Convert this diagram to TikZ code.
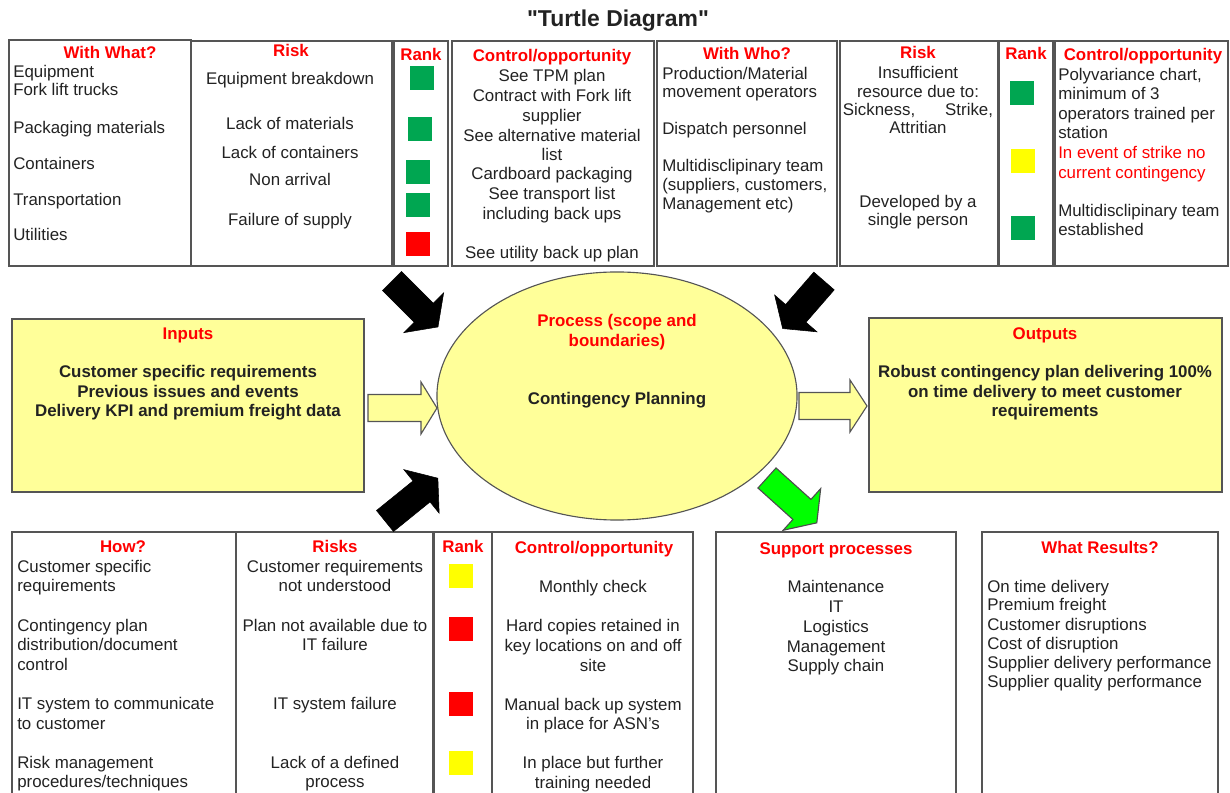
\documentclass[tikz,border=0pt,12pt]{standalone}
\usepackage{fontspec}
\setmainfont{Liberation Sans}
\usetikzlibrary{shapes.geometric,fit}

\font\titlefnt="Liberation Sans/B" at 16.3pt

\definecolor{txtgray}{HTML}{222222}
\definecolor{linegray}{HTML}{555555}
\definecolor{paleyellow}{HTML}{FFFF99}
\definecolor{rkgreen}{HTML}{00A651}
\definecolor{rkred}{HTML}{FF0000}
\definecolor{rkyellow}{HTML}{FFFF00}
\definecolor{hdred}{HTML}{FF0000}
\definecolor{brightgreen}{HTML}{00FF00}

\tikzset{
    cell/.style={draw=linegray, line width=1.2pt, inner sep=0pt},
    txt/.style={text=txtgray, inner sep=0pt},
    hd/.style={txt, text=hdred, font=\bfseries, anchor=base},
    sq/.style={minimum width=0.6cm, minimum height=0.6cm, inner sep=0pt},
    barrow/.style={fill=black, draw=black, line width=0.4pt},
    garrow/.style={fill=brightgreen, draw=black!70, line width=0.8pt},
    yarrow/.style={fill=paleyellow, draw=linegray, line width=0.8pt}
}

\newcommand{\blockarrow}[6]{%
    \draw[#1, shift={(#2)}, rotate=#3] (0,-13.5) -- (#4,-13.5) -- (#4,-#6) -- (#5,0)
        -- (#4,#6) -- (#4,13.5) -- (0,13.5) -- cycle;}

\begin{document}
\begin{tikzpicture}[x=0.025cm, y=-0.025cm]
                \useasboundingbox (0,0) rectangle (1230,793);
                \clip (0,0) rectangle (1230,793);
                \node[txt, font=\titlefnt, anchor=base] (title) at (618,27) {"Turtle Diagram"};

                \node[cell, fit={(9,40) (191,266)}] (what) {};
                \node[cell, fit={(191,41) (392,266)}] (risk) {};
                \node[cell, fit={(394,41) (448,266)}] (rank) {};
                \node[cell, fit={(452,41) (654,266)}] (ctrl) {};
                \node[cell, fit={(657,41) (837,266)}] (who) {};
                \node[cell, fit={(840,41) (998,266)}] (riskb) {};
                \node[cell, fit={(999,41) (1053,266)}] (rankb) {};
                \node[cell, fit={(1055,41) (1228,266)}] (ctrlb) {};

                \node[hd] (whath) at (110,59) {With What?};
                \node[hd] (riskh) at (291,57) {Risk};
                \node[hd] (rankh) at (421,61) {Rank};
                \node[hd] (ctrlh) at (552,62) {Control/opportunity};
                \node[hd] (whoh) at (747,60) {With Who?};
                \node[hd] (riskbh) at (918,59) {Risk};
                \node[hd] (rankbh) at (1026,60) {Rank};
                \node[hd] (ctrlbh) at (1143,61) {Control/opportunity};

                \foreach \y/\t [count=\i] in {71/Equipment, 89/Fork lift trucks, 127/Packaging materials,
                    163/Containers, 199/Transportation, 234/Utilities}
                    \node[txt, anchor=base west] (what\i) at (13,\y+7) {\t};
                \foreach \y/\t [count=\i] in {78/Equipment breakdown, 123/Lack of materials,
                    152/Lack of containers, 179/Non arrival, 219/Failure of supply}
                    \node[txt, anchor=base] (risk\i) at (290,\y+7) {\t};
                \foreach \y/\t [count=\i] in {75/See TPM plan, 95/Contract with Fork lift, 115/supplier,
                    135/See alternative material, 154/list, 173/Cardboard packaging,
                    193/See transport list, 213/including back ups, 252/See utility back up plan}
                    \node[txt, anchor=base] (ctrl\i) at (552,\y+7) {\t};
                \foreach \y/\t [count=\i] in {73/{Production/Material}, 91/movement operators,
                    128/Dispatch personnel, 165/Multidisclipinary team,
                    184/{(suppliers, customers,}, 203/Management etc)}
                    \node[txt, anchor=base west] (who\i) at (662,\y+7) {\t};
                \foreach \y/\t [count=\i] in {72/Insufficient, 91/resource due to:,
                    109/{\makebox[3.75cm]{Sickness,\hfill Strike,}}, 127/Attritian,
                    201/Developed by a, 219/single person}
                    \node[txt, anchor=base] (riskb\i) at (918,\y+7) {\t};
                \foreach \y/\t [count=\i] in {74/{Polyvariance chart,}, 93/minimum of 3,
                    113/operators trained per, 132/station, 152/{\color{hdred}In event of strike no},
                    172/{\color{hdred}current contingency}, 210/Multidisclipinary team, 229/established}
                    \node[txt, anchor=base west] (ctrlb\i) at (1058,\y+7) {\t};

                \node[sq, fill=rkgreen] (rka) at (422,78) {};
                \node[sq, fill=rkgreen] (rkb) at (420,129) {};
                \node[sq, fill=rkgreen] (rkc) at (418,172) {};
                \node[sq, fill=rkgreen] (rkd) at (418,205) {};
                \node[sq, fill=rkred] (rke) at (418,244) {};
                \node[sq, fill=rkgreen] (rkf) at (1022,93) {};
                \node[sq, fill=rkyellow] (rkg) at (1023,161) {};
                \node[sq, fill=rkgreen] (rkh) at (1023,228) {};

                \node[cell, line width=0.8pt, fill=paleyellow, fit={(12,319) (364,492)}] (inputs) {};
                \node[cell, line width=0.8pt, fill=paleyellow, fit={(869,318) (1222,492)}] (outputs) {};
                \node[draw=linegray, line width=0.8pt, fill=paleyellow, ellipse, inner sep=0pt,
                    minimum width=9cm, minimum height=6.2cm] (process) at (617,396) {};

                \node[hd] (inputsh) at (188,340) {Inputs};
                \foreach \y/\t [count=\i] in {371/Customer specific requirements,
                    391/Previous issues and events, 410/Delivery KPI and premium freight data}
                    \node[txt, font=\bfseries, anchor=base] (input\i) at (188,\y+7) {\t};
                \node[hd] (processh) at (617,327) {Process (scope and};
                \node[hd] (processhb) at (617,347) {boundaries)};
                \node[txt, font=\bfseries, anchor=base] (plan) at (617,405) {Contingency Planning};
                \node[hd] (outputsh) at (1045,340) {Outputs};
                \foreach \y/\t [count=\i] in {371/Robust contingency plan delivering 100\%,
                    391/on time delivery to meet customer, 410/requirements}
                    \node[txt, font=\bfseries, anchor=base] (output\i) at (1045,\y+7) {\t};

                \node[cell, fit={(12,532) (236,810)}] (how) {};
                \node[cell, fit={(236,532) (433,810)}] (risks) {};
                \node[cell, fit={(434,532) (492,810)}] (rankc) {};
                \node[cell, fit={(492,532) (693,810)}] (ctrlc) {};
                \node[cell, fit={(716,532) (956,810)}] (support) {};
                \node[cell, fit={(982,532) (1218,810)}] (results) {};

                \node[hd] (howh) at (123,552) {How?};
                \node[hd] (risksh) at (335,552) {Risks};
                \node[hd] (rankch) at (463,552) {Rank};
                \node[hd] (ctrlch) at (594,553) {Control/opportunity};
                \node[hd] (supporth) at (836,554) {Support processes};
                \node[hd] (resultsh) at (1100,553) {What Results?};

                \foreach \y/\t [count=\i] in {565/Customer specific, 584/requirements, 624/Contingency plan,
                    643/{distribution/document}, 663/control, 702/IT system to communicate,
                    722/to customer, 761/Risk management, 780/{procedures/techniques}}
                    \node[txt, anchor=base west] (how\i) at (17,\y+7) {\t};
                \foreach \y/\t [count=\i] in {565/Customer requirements, 584/not understood,
                    624/Plan not available due to, 643/IT failure, 702/IT system failure,
                    761/Lack of a defined, 780/process}
                    \node[txt, anchor=base] (risks\i) at (335,\y+7) {\t};
                \foreach \y/\t [count=\i] in {585/Monthly check, 624/Hard copies retained in,
                    644/key locations on and off, 664/site, 703/Manual back up system,
                    722/in place for ASN's, 761/In place but further, 781/training needed}
                    \node[txt, anchor=base] (ctrlc\i) at (593,\y+7) {\t};
                \foreach \y/\t [count=\i] in {585/Maintenance, 605/IT, 625/Logistics,
                    645/Management, 664/Supply chain}
                    \node[txt, anchor=base] (support\i) at (836,\y+7) {\t};
                \foreach \y/\t [count=\i] in {585/On time delivery, 603/Premium freight,
                    623/Customer disruptions, 642/Cost of disruption,
                    661/Supplier delivery performance, 680/Supplier quality performance}
                    \node[txt, anchor=base west] (results\i) at (987,\y+7) {\t};

                \node[sq, fill=rkyellow] (rki) at (461,576) {};
                \node[sq, fill=rkred] (rkj) at (461,629) {};
                \node[sq, fill=rkred] (rkk) at (461,704) {};
                \node[sq, fill=rkyellow] (rkl) at (461,763) {};

                \blockarrow{yarrow}{368,408}{0}{53}{69}{26}
                \blockarrow{yarrow}{799,406}{0}{51}{68}{26}
                \blockarrow{barrow}{392,281}{-45}{45}{65}{28}
                \blockarrow{barrow}{824,281}{-131}{43}{63}{28}
                \blockarrow{barrow}{385,521}{39}{47}{68}{28}
                \blockarrow{garrow}{767,478}{-42}{47}{67}{28}
\end{tikzpicture}
\end{document}
